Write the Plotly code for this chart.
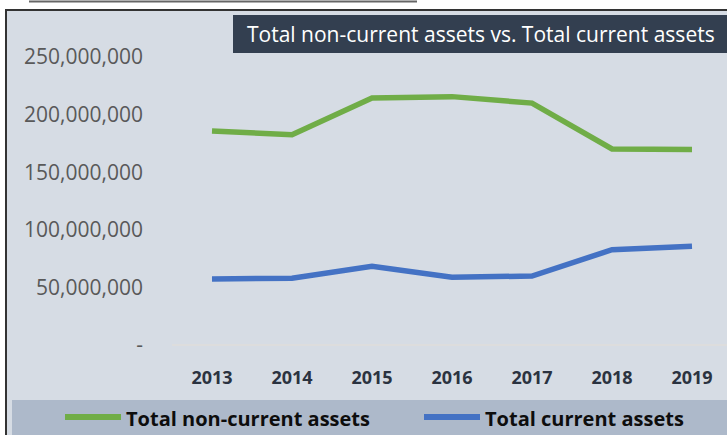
import plotly.graph_objects as go

years = ["2013", "2014", "2015", "2016", "2017", "2018", "2019"]
non_current = [185.8e6, 182.5e6, 214.5e6, 215.6e6, 210.0e6, 170.2e6, 169.8e6]
current = [57.3e6, 58.0e6, 68.3e6, 58.8e6, 59.9e6, 82.7e6, 85.8e6]
y_ticks = [0, 50e6, 100e6, 150e6, 200e6, 250e6]
y_tick_text = ["-", "50,000,000", "100,000,000", "150,000,000", "200,000,000", "250,000,000"]

W, H = 727, 435
L, R, T, B = 172, 0, 57, 90
pw, ph = W - L - R, H - T - B
FONT = "Open Sans"


def px_x(x):
    return (x - L) / pw


def px_y(y):
    return (H - B - y) / ph


series = [
    ("Total non-current assets", non_current, "#70AD47", 65),
    ("Total current assets", current, "#4472C4", 424),
]

fig = go.Figure()
for name, values, color, key_x in series:
    fig.add_trace(go.Scatter(x=years, y=values, mode="lines", name=name,
                             line=dict(color=color, width=5.5), showlegend=False))
    # legend key drawn by hand so the swatch matches the long Excel-style stroke
    fig.add_shape(type="line", xref="paper", yref="paper",
                  x0=px_x(key_x), x1=px_x(key_x + 56), y0=px_y(417), y1=px_y(417),
                  line=dict(color=color, width=6))
    fig.add_annotation(text=f"<b>{name}</b>", xref="paper", yref="paper",
                       x=px_x(key_x + 59), y=px_y(418), xanchor="left", yanchor="middle",
                       showarrow=False, font=dict(family=FONT, size=20, color="#0D0D0D"))

fig.update_layout(
    width=W, height=H,
    margin=dict(l=L, r=R, t=T, b=B, autoexpand=False),
    paper_bgcolor="white",
    plot_bgcolor="rgba(0,0,0,0)",
    font=dict(family=FONT, color="#595959"),
    showlegend=False,
)

fig.update_xaxes(
    type="category", range=[-0.5, 6.4375], showgrid=False, zeroline=False, showline=False,
    ticks="", ticklabelstandoff=20,
    tickfont=dict(family=FONT, size=18, color="#2B3340", weight="bold"),
)
fig.update_yaxes(
    range=[0, 250e6], tickvals=y_ticks, ticktext=y_tick_text, showgrid=False,
    zeroline=True, zerolinecolor="#DDDDDD", zerolinewidth=2, showline=False,
    ticks="", ticklabelstandoff=28,
    tickfont=dict(family=FONT, size=21, color="#595959"),
)

# chart frame and bands
fig.add_shape(type="rect", xref="paper", yref="paper", layer="below",
              x0=px_x(6), x1=px_x(730), y0=px_y(437), y1=px_y(10),
              fillcolor="#D6DCE4", line=dict(color="#333333", width=2))
fig.add_shape(type="rect", xref="paper", yref="paper", layer="below",
              x0=px_x(12), x1=px_x(730), y0=px_y(437), y1=px_y(400),
              fillcolor="#ADB9CA", line=dict(width=0))
fig.add_shape(type="line", xref="paper", yref="paper",
              x0=px_x(29), x1=px_x(417), y0=px_y(1.5), y1=px_y(1.5),
              line=dict(color="#666666", width=2))
fig.add_shape(type="rect", xref="paper", yref="paper", layer="below",
              x0=px_x(233), x1=px_x(730), y0=px_y(53), y1=px_y(15),
              fillcolor="#333F50", line=dict(width=0))
fig.add_annotation(text="Total non-current assets vs. Total current assets",
                   xref="paper", yref="paper", x=px_x(481), y=px_y(34),
                   xanchor="center", yanchor="middle", showarrow=False,
                   font=dict(family=FONT, size=21, color="white"))

fig.write_html("out.html", config={"displayModeBar": False},
               post_script="document.body.style.margin='0';")
